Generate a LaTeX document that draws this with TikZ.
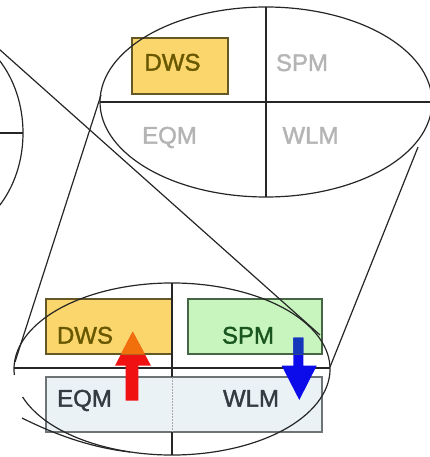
\documentclass[tikz,border=0pt]{standalone}
\usepackage{fontspec}
\setmainfont{Liberation Sans}
\newfontfamily\lblfont{Liberation Sans}[FakeBold=1.6]
\definecolor{dwsfill}{RGB}{250,214,108}
\definecolor{dwsline}{RGB}{100,88,40}
\definecolor{dwstext}{RGB}{105,88,0}
\definecolor{spmfill}{RGB}{200,244,190}
\definecolor{spmline}{RGB}{70,100,70}
\definecolor{spmtext}{RGB}{25,85,30}
\definecolor{lowfill}{RGB}{234,242,246}
\definecolor{lowline}{RGB}{110,115,115}
\definecolor{lowtext}{RGB}{50,60,65}
\definecolor{greytext}{RGB}{180,180,180}
\definecolor{uparrow}{RGB}{240,18,18}
\definecolor{downarrow}{RGB}{12,12,235}
\definecolor{upmix}{RGB}{242,112,12}
\definecolor{downmix}{RGB}{20,55,185}
\begin{document}
\begin{tikzpicture}[x=1pt,y=-1pt,
  outline/.style={line width=1.2pt,draw=black!85},
  lbl/.style={font=\lblfont\fontsize{24}{28}\selectfont,anchor=base,inner sep=0pt},
  box/.style={rectangle,inner sep=0pt,line width=1.1pt},
  redshape/.style={insert path={(125.7,400.7) -- (125.7,365.7) -- (115,365.7) -- (132.7,331.7)
      -- (151,365.7) -- (138.3,365.7) -- (138.3,400.7) -- cycle}},
  blueshape/.style={insert path={(293.3,337.7) -- (293.3,365.7) -- (281.7,365.7) -- (299.3,400)
      -- (316.7,365.7) -- (303.3,365.7) -- (303.3,337.7) -- cycle}}]
\useasboundingbox (0,0) rectangle (430,457);
\clip (0,0) rectangle (430,457);

% ---- boxes ----
\node[box,draw=dwsline,fill=dwsfill,minimum width=96pt,minimum height=56pt] (dwsT) at (180,66) {};
\node[box,draw=dwsline,fill=dwsfill,minimum width=126pt,minimum height=55pt] (dwsB) at (109,326.5) {};
\node[box,draw=spmline,fill=spmfill,minimum width=134pt,minimum height=55pt] (spmB) at (255,326.5) {};
\node[box,draw=lowline,fill=lowfill,minimum width=276pt,minimum height=55pt] (lowB) at (184,404.5) {};

% ---- guide points ----
\coordinate (topC) at (266,102);
\coordinate (leftC) at (-60,133);
\coordinate (botC) at (172,369);
\coordinate (diagA) at (-10,41);
\coordinate (diagB) at (320,335);
\coordinate (legLA) at (101,95);
\coordinate (legLB) at (15,362);
\coordinate (legRA) at (418,147);
\coordinate (legRB) at (330,367);

% ---- upper view ----
\draw[outline] (topC) ellipse [x radius=166, y radius=95];
\draw[outline] (100,102) -- (432,102);
\draw[outline] (266,7) -- (266,197);

% ---- left view ----
\draw[outline] (leftC) ellipse [x radius=83, y radius=104];
\draw[outline] (0,133) -- (23,133);

% ---- projection lines ----
\draw[outline] (diagA) -- (diagB);
\draw[outline] (legLA) -- (legLB);
\draw[outline] (legRA) -- (legRB);

% ---- lower view ----
\draw[outline] ([shift={(161:158 and 86)}]botC) arc [start angle=161, end angle=-184, x radius=158, y radius=86];
\draw[outline] (22,418) .. controls (60,437) and (95,448) .. (130,452);
\draw[outline] (14,368) -- (330,368);
\draw[outline] (172,283) -- (172,377);
\draw[outline] (172,432) -- (172,455);
\draw[lowline!60,line width=0.6pt,dash pattern=on 1.5pt off 1.5pt] (172,377) -- (172,432);

% ---- arrows ----
\fill[uparrow,redshape];
\fill[downarrow,blueshape];
\begin{scope}
  \clip (dwsB.north west) rectangle (dwsB.south east);
  \fill[upmix,redshape];
\end{scope}
\begin{scope}
  \clip (spmB.north west) rectangle (spmB.south east);
  \fill[downmix,blueshape];
\end{scope}
\draw[dwsline,line width=1pt,opacity=0.45] (115,354) -- (151,354);
\draw[spmline,line width=1pt,opacity=0.45] (281,354) -- (317,354);

% ---- labels ----
\node[lbl,text=dwstext] (tDWS) at (172.5,70.6) {DWS};
\node[lbl,text=greytext] (tSPM) at (302,71) {SPM};
\node[lbl,text=greytext] (tEQM) at (169.5,143.6) {EQM};
\node[lbl,text=greytext] (tWLM) at (310.5,143.6) {WLM};
\node[lbl,text=dwstext] (bDWS) at (85,343.6) {DWS};
\node[lbl,text=spmtext] (bSPM) at (248,343.6) {SPM};
\node[lbl,text=lowtext] (bEQM) at (84.5,406.6) {EQM};
\node[lbl,text=lowtext] (bWLM) at (251,406.6) {WLM};
\end{tikzpicture}
\end{document}
